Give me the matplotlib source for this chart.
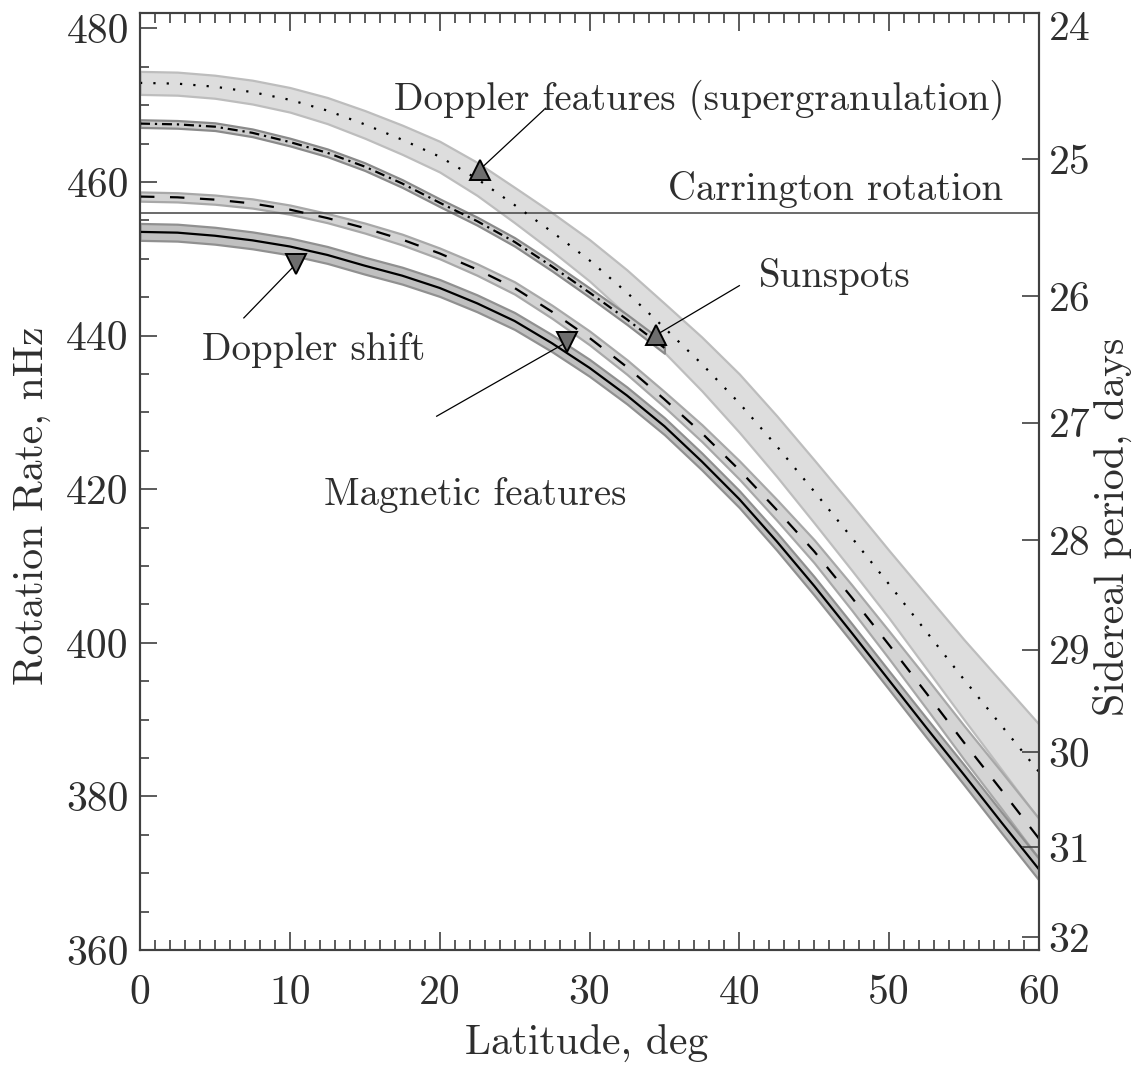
import numpy as np
import matplotlib
matplotlib.use("Agg")
import matplotlib.pyplot as plt
from matplotlib.ticker import MultipleLocator, FixedLocator, NullLocator

# ---------------- data ----------------
latitude = [0, 2.5, 5, 7.5, 10, 12.5, 15, 17.5, 20, 22.5, 25, 27.5, 30,
            32.5, 35, 37.5, 40, 42.5, 45, 47.5, 50, 52.5, 55, 57.5, 60]

doppler_shift = [453.5, 453.4, 453.0, 452.4, 451.6, 450.5, 449.1, 447.8, 446.2, 444.2, 441.9, 439.0, 435.8,
                 432.2, 428.2, 423.6, 418.7, 413.2, 407.4, 401.3, 395.1, 388.9, 382.8, 376.6, 370.5]
doppler_shift_err = [1.1, 1.1, 1.1, 1.1, 1.1, 1.1, 1.1, 1.1, 1.1, 1.1, 1.1, 1.1, 1.1,
                     1.1, 1.1, 1.1, 1.1, 1.15, 1.2, 1.2, 1.2, 1.25, 1.3, 1.35, 1.4]

magnetic = [458.1, 458.0, 457.7, 457.2, 456.4, 455.3, 454.0, 452.5, 450.7, 448.6, 446.2, 443.1, 439.7,
            435.9, 431.7, 427.3, 422.5, 417.3, 411.9, 405.9, 399.7, 393.4, 387.0, 380.8, 374.5]
magnetic_err = [0.6, 0.6, 0.6, 0.6, 0.6, 0.6, 0.65, 0.7, 0.7, 0.75, 0.8, 0.85, 0.9,
                0.95, 1.0, 1.1, 1.2, 1.35, 1.5, 1.65, 1.8, 2.0, 2.2, 2.4, 2.6]

sunspot_lat = [0, 2.5, 5, 7.5, 10, 12.5, 15, 17.5, 20, 22.5, 25, 27.5, 30, 32.5, 35]
sunspots = [467.6, 467.5, 467.2, 466.4, 465.2, 463.8, 462.0, 459.8, 457.3, 454.9, 452.2, 449.0, 445.6,
            442.1, 438.4]
sunspots_err = [0.5, 0.5, 0.5, 0.5, 0.5, 0.5, 0.5, 0.5, 0.5, 0.52, 0.55, 0.58, 0.6, 0.65, 0.7]

supergranulation = [472.9, 472.8, 472.4, 471.7, 470.7, 469.3, 467.5, 465.5, 463.3, 460.4, 457.0, 453.5, 449.8,
                    445.6, 441.0, 436.3, 431.2, 425.6, 419.7, 413.7, 407.6, 401.4, 395.2, 389.2, 383.2]
supergranulation_err = [1.5, 1.5, 1.5, 1.55, 1.6, 1.7, 1.8, 1.9, 2.0, 2.15, 2.3, 2.5, 2.7,
                        2.95, 3.2, 3.5, 3.8, 3.95, 4.1, 4.25, 4.4, 4.8, 5.2, 5.7, 6.2]

carrington_rate = 456.0

period_days = [24, 25, 26, 27, 28, 29, 30, 31, 32]

x_major = [0, 10, 20, 30, 40, 50, 60]
y_major = [360, 380, 400, 420, 440, 460, 480]

# annotations: (text, text_x, text_y, line_start, marker_point, marker)
annotations = [
    ("Doppler features (supergranulation)", 37.33, 469.4, (27.07, 469.6), (22.67, 461.6), "^"),
    ("Carrington rotation", 46.4, 457.7, None, None, None),
    ("Sunspots", 46.4, 446.3, (40.0, 446.5), (34.47, 440.1), "^"),
    ("Doppler shift", 11.6, 436.8, (6.93, 442.3), (10.4, 449.3), "v"),
    ("Magnetic features", 22.4, 417.9, (19.8, 429.5), (28.53, 439.2), "v"),
]

# ---------------- style ----------------
FONT = "cmr10"
TXT = "#2e2e2e"
AX = "#404040"
plt.rcParams["font.family"] = [FONT, "DejaVu Serif"]
plt.rcParams["axes.formatter.use_mathtext"] = True
FS_TICK = 30
FS_LAB = 30
FS_ANN = 28

fig = plt.figure(figsize=(11.33, 10.66), dpi=100)
L, R, B, T = 140 / 1133, 1039 / 1133, 1 - 950 / 1066, 1 - 13 / 1066
ax = fig.add_axes([L, B, R - L, T - B])
ax.set_xlim(0, 60)
ax.set_ylim(360, 482.0)

lat = np.array(latitude)

def band(x, y, e, fc, ec, z):
    y = np.array(y); e = np.array(e)
    ax.fill_between(x, y - e, y + e, facecolor=fc, edgecolor=ec, linewidth=1.6, zorder=z)

band(lat, supergranulation, supergranulation_err, "#dddddd", "#bdbdbd", 1)
band(lat, magnetic, magnetic_err, "#d4d4d4", "#a8a8a8", 2)
band(lat, doppler_shift, doppler_shift_err, "#c0c0c0", "#909090", 3)
band(np.array(sunspot_lat), sunspots, sunspots_err, "#cdcdcd", "#8a8a8a", 4)

ax.axhline(carrington_rate, color="#505050", lw=1.2, zorder=5)

ax.plot(lat, doppler_shift, color="black", lw=1.6, zorder=6, solid_joinstyle="round")
ax.plot(lat, magnetic, color="black", lw=1.6, zorder=6, dashes=(6.5, 7))
ax.plot(lat, supergranulation, color="black", lw=1.6, zorder=6, dashes=(1.0, 5.0))
ax.plot(sunspot_lat, sunspots, color="black", lw=1.6, zorder=6, dashes=(4.5, 2.2, 1.0, 2.2))

for text, tx, ty, start, pt, mk in annotations:
    ax.text(tx, ty, text, ha="center", va="baseline", fontsize=FS_ANN, color=TXT, zorder=8)
    if start is not None:
        ax.plot([start[0], pt[0]], [start[1], pt[1]], color="black", lw=0.9, zorder=7)
        ax.plot([pt[0]], [pt[1]], marker=mk, ms=14.5, mfc="#6e6e6e", mec="black",
                mew=1.4, zorder=9, linestyle="none")

# ticks
ax.xaxis.set_major_locator(FixedLocator(x_major))
ax.xaxis.set_minor_locator(MultipleLocator(1))
ax.yaxis.set_major_locator(FixedLocator(y_major))
ax.yaxis.set_minor_locator(MultipleLocator(5))
ax.set_xticklabels([str(v) for v in x_major])
ax.set_yticklabels([str(v) for v in y_major])
ax.tick_params(axis="both", which="both", direction="in", colors=AX, labelcolor=TXT,
               labelsize=FS_TICK, top=True, right=False, width=1.2)
ax.tick_params(axis="x", which="major", length=13, pad=18)
ax.tick_params(axis="x", which="minor", length=7)
ax.tick_params(axis="y", which="major", length=12.5, pad=8)
ax.tick_params(axis="y", which="minor", length=6.5)
for s in ax.spines.values():
    s.set_color(AX)
    s.set_linewidth(1.5)

ax2 = ax.twinx()
ax2.set_ylim(ax.get_ylim())
pos = [1e9 / (86400.0 * p) for p in period_days]
lo, hi = ax.get_ylim()
vis = [(v, p) for v, p in zip(pos, period_days) if lo <= v <= hi]
ax2.yaxis.set_major_locator(FixedLocator([v for v, p in vis]))
ax2.yaxis.set_minor_locator(NullLocator())
ax2.set_yticklabels([str(p) for v, p in vis])
ax2.tick_params(axis="y", which="major", direction="in", length=12.5, pad=7,
                colors=AX, labelcolor=TXT, labelsize=FS_TICK, width=1.2)
for s in ax2.spines.values():
    s.set_color(AX)
    s.set_linewidth(1.5)
# label for the 24-day period that sits just above the plotted range
for v, p in zip(pos, period_days):
    if v > hi:
        ax2.annotate(str(p), xy=(1.0, 479.9), xycoords=("axes fraction", "data"),
                     xytext=(7, 0), textcoords="offset points", ha="left", va="center",
                     fontsize=FS_TICK, color=TXT)

fig.text(32 / 1133, 1 - 506 / 1066, "Rotation Rate, nHz", rotation=90, ha="center",
         va="center", fontsize=FS_LAB, color=TXT)
fig.text(587 / 1133, 1 - 1044 / 1066, "Latitude, deg", ha="center", va="center",
         fontsize=FS_LAB, color=TXT)
fig.text(1112 / 1133, 1 - 527 / 1066, "Sidereal period, days", rotation=90, ha="center",
         va="center", fontsize=FS_LAB, color=TXT)

fig.savefig("out.png", dpi=100)
